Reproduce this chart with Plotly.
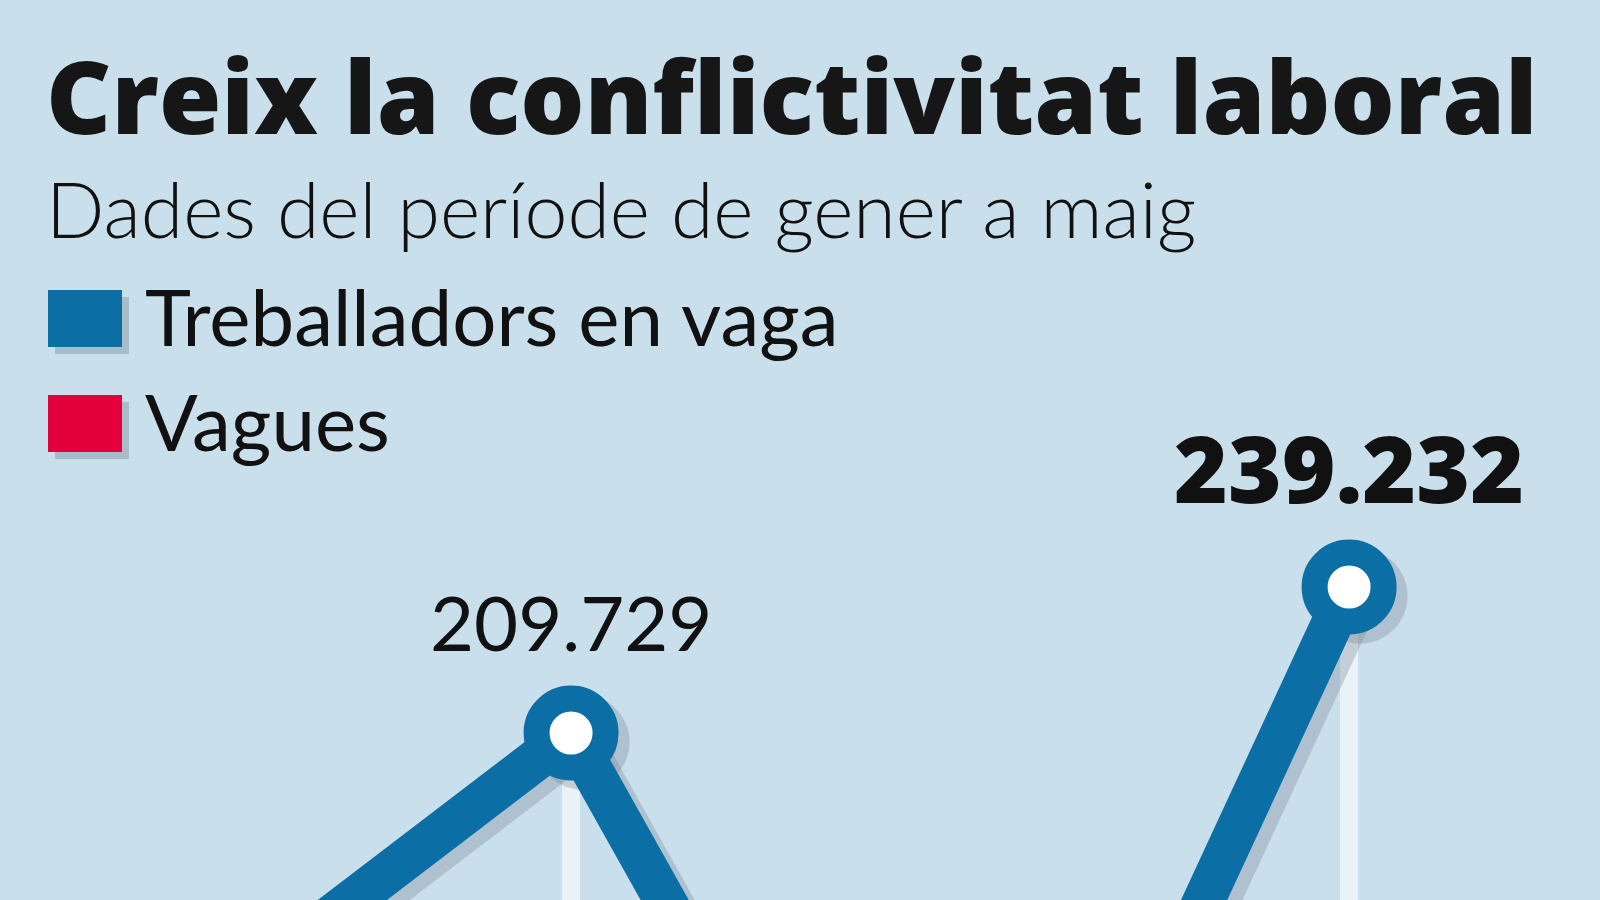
import plotly.graph_objects as go

# Treballadors en vaga (gener-maig); only two values are labelled in the crop,
# the others are read off the slope of the line where it leaves the frame
years = [2020, 2021, 2022, 2023]
workers = [149700, 209729, 69500, 239232]
labels = ["", "209.729", "", "239.232"]

legend_names = ["Treballadors en vaga", "Vagues"]
legend_colors = ["#0b6fa5", "#e4003b"]

BLUE = "#0b6fa5"
BG = "#c9dfeb"
W, H = 1600, 900


def px(x):
    return x / W


def py(y):
    return 1 - y / H


fig = go.Figure()

# white drop lines from each point down to the base
fig.add_trace(go.Bar(
    x=years, y=workers, width=0.046,
    marker=dict(color="rgba(255,255,255,0.6)", line=dict(width=0)),
    hoverinfo="skip", showlegend=False
))

# soft grey shadow, shifted a few pixels right and down
sx = 11 / 389
sy = 9 * 202.08
fig.add_trace(go.Scatter(
    x=[v + sx for v in years], y=[v - sy for v in workers],
    mode="lines+markers",
    line=dict(color="rgba(120,135,150,0.33)", width=42),
    marker=dict(size=95, color="rgba(120,135,150,0.33)", line=dict(width=0)),
    hoverinfo="skip", showlegend=False
))

fig.add_trace(go.Scatter(
    x=years, y=workers,
    mode="lines+markers",
    line=dict(color=BLUE, width=42),
    marker=dict(size=69, color="white", line=dict(color=BLUE, width=26)),
    name=legend_names[0], showlegend=False
))

# value labels
fig.add_annotation(x=years[1], y=workers[1], text=labels[1], showarrow=False,
                   yshift=112, font=dict(family="Lato", size=76, color="#111111"))
fig.add_annotation(x=years[3], y=workers[3], text=labels[3], showarrow=False,
                   yshift=120, font=dict(family="Open Sans", size=92, color="#111111", weight=800))

# title block
fig.add_annotation(xref="paper", yref="paper", x=px(44), y=py(24), xanchor="left", yanchor="top",
                   text="Creix la conflictivitat laboral", showarrow=False,
                   font=dict(family="Open Sans", size=101, color="#161616", weight=800))
fig.add_annotation(xref="paper", yref="paper", x=px(44), y=py(160), xanchor="left", yanchor="top",
                   text="Dades del període de gener a maig", showarrow=False,
                   font=dict(family="Lato", size=77, color="#111111", weight=300))

# legend: squares with a small shadow
sq_top = [290, 395]
for i, name in enumerate(legend_names):
    t = sq_top[i]
    fig.add_shape(type="rect", xref="paper", yref="paper",
                  x0=px(55), x1=px(129), y0=py(t + 64), y1=py(t + 7),
                  fillcolor="rgba(120,135,150,0.4)", line=dict(width=0), layer="below")
    fig.add_shape(type="rect", xref="paper", yref="paper",
                  x0=px(48), x1=px(122), y0=py(t + 57), y1=py(t),
                  fillcolor=legend_colors[i], line=dict(width=0))
    fig.add_annotation(xref="paper", yref="paper", x=px(143), y=py(t + 26), xanchor="left",
                       yanchor="middle", text=name, showarrow=False,
                       font=dict(family="Lato", size=78, color="#111111"))

fig.update_layout(
    width=W, height=H,
    margin=dict(l=0, r=0, t=0, b=0),
    paper_bgcolor=BG, plot_bgcolor=BG,
    showlegend=False,
    bargap=0,
    xaxis=dict(range=[2019.532, 2023.645], visible=False, fixedrange=True),
    yaxis=dict(range=[175981, 357853], visible=False, fixedrange=True),
)

fig.write_html("out.html", config={"displayModeBar": False},
               post_script="document.body.style.margin='0';")
